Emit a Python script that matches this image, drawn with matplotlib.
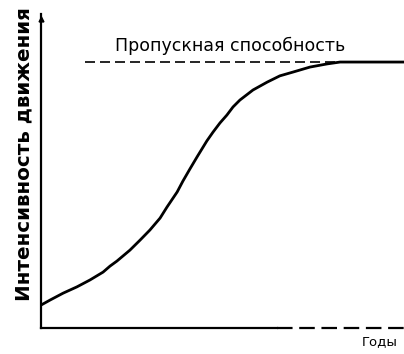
import matplotlib
matplotlib.use("Agg")
import matplotlib.pyplot as plt

# curve (x, y in percent of the axes)
years = [0.0, 2.5, 6.1, 9.9, 13.5, 17.1, 19.0, 20.9, 24.5, 27.3, 30.0, 32.8,
         34.7, 37.5, 39.1, 41.0, 43.0, 45.7, 47.4, 49.3, 51.2, 52.9, 54.8,
         58.4, 62.3, 65.8, 69.4, 74.1, 78.8, 82.4, 94.2, 100.0]
intensity = [7.3, 8.9, 11.1, 13.1, 15.3, 17.8, 19.7, 21.3, 24.8, 28.0, 31.2,
             35.0, 38.5, 43.3, 46.8, 50.6, 54.5, 59.6, 62.4, 65.3, 67.8, 70.4,
             72.6, 75.8, 78.3, 80.3, 81.5, 83.1, 84.1, 84.7, 84.7, 84.7]
capacity = 84.7
capacity_start = 12.1
capacity_label = "Пропускная способность"
xlabel = "Годы"
ylabel = "Интенсивность движения"

fig = plt.figure(figsize=(4.04, 3.54), dpi=100)
ax = fig.add_axes([41 / 404, 26 / 354, 363 / 404, 314 / 354])
ax.set_xlim(0, 100)
ax.set_ylim(0, 100)
ax.axis("off")

# axes drawn by hand: y axis with arrow, x axis fading into dashes
ax.plot([0, 0], [0, 100], color="black", lw=1.6, clip_on=False)
ax.plot(0, 98.5, marker="^", color="black", markersize=3.5, clip_on=False)
ax.plot([0, 65], [0, 0], color="black", lw=1.6, clip_on=False)
ax.plot([65, 100], [0, 0], color="black", lw=1.6, dashes=(7, 3), clip_on=False)

# capacity level
ax.plot([capacity_start, 100], [capacity, capacity], color="black", lw=1.2,
        dashes=(6, 3))
ax.text(20.4, 88.3, capacity_label, fontsize=12.5, family="DejaVu Sans",
        ha="left", va="baseline")

# traffic growth curve
ax.plot(years, intensity, color="black", lw=2.0, solid_joinstyle="round",
        solid_capstyle="round")

fig.text(362 / 404, 6 / 354, xlabel, fontsize=9.5, family="DejaVu Sans",
         ha="left", va="bottom")
fig.text(24 / 404, 200 / 354, ylabel, fontsize=14.3, family="DejaVu Sans",
         weight="bold", rotation=90, ha="center", va="center")

fig.savefig("out.png", dpi=100)
